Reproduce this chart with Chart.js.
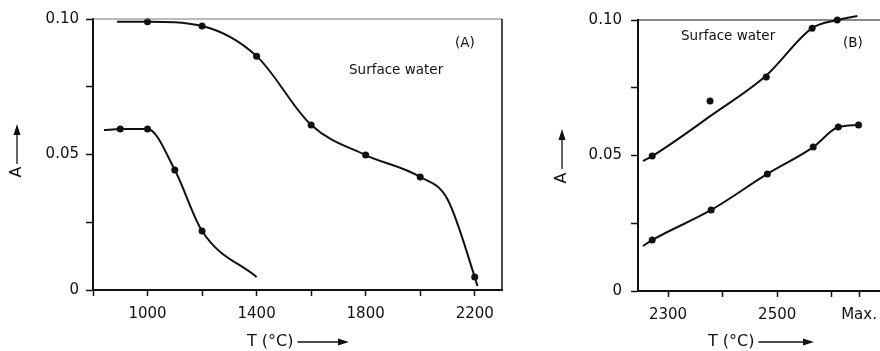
<!DOCTYPE html>
<html>
<head>
<meta charset="utf-8">
<script src="https://cdn.jsdelivr.net/npm/chart.js@4"></script>
<style>
  html, body { margin: 0; padding: 0; background: #fff; overflow: hidden; width: 880px; height: 351px; }
  .panel { position: absolute; top: 0; height: 351px; }
  #panel-a { left: 0; width: 520px; }
  #panel-b { left: 540px; width: 380px; }
</style>
</head>
<body>
<div class="panel" id="panel-a"><canvas id="chart-a"></canvas></div>
<div class="panel" id="panel-b"><canvas id="chart-b"></canvas></div>
<script>
// (A) absorbance vs atomization temperature
var aUpperCurveT = [888, 1000, 1200, 1400, 1600, 1800, 2000, 2100, 2200, 2210];
var aUpperCurveA = [0.0990, 0.0990, 0.0974, 0.0863, 0.0609, 0.0498, 0.0417, 0.0335, 0.0048, 0.0015];
var aUpperPointT = [1000, 1200, 1400, 1600, 1800, 2000, 2200];
var aUpperPointA = [0.0990, 0.0974, 0.0863, 0.0609, 0.0498, 0.0417, 0.0048];
var aLowerCurveT = [840, 900, 1000, 1100, 1200, 1400];
var aLowerCurveA = [0.0590, 0.0594, 0.0594, 0.0443, 0.0218, 0.0048];
var aLowerPointT = [900, 1000, 1100, 1200];
var aLowerPointA = [0.0594, 0.0594, 0.0443, 0.0218];

// (B) absorbance vs atomization temperature, high range
var bUpperCurveT = [2254, 2271, 2380, 2480, 2564, 2610, 2647];
var bUpperCurveA = [0.0480, 0.0498, 0.0649, 0.0795, 0.0970, 0.1000, 0.1015];
var bUpperPointT = [2271, 2377, 2480, 2564, 2610, 2647];
var bUpperPointA = [0.0498, 0.0701, 0.0790, 0.0970, 0.1000, 0.1015];
var bLowerCurveT = [2254, 2271, 2379, 2482, 2566, 2612, 2649];
var bLowerCurveA = [0.0166, 0.0188, 0.0299, 0.0432, 0.0531, 0.0605, 0.0613];
var bLowerPointT = [2271, 2379, 2482, 2566, 2612, 2649];
var bLowerPointA = [0.0188, 0.0299, 0.0432, 0.0531, 0.0605, 0.0613];

// axis ticks
var aTempTicks = [800, 1000, 1200, 1400, 1600, 1800, 2000, 2200];
var aTempLabels = ["", "1000", "", "1400", "", "1800", "", "2200"];
var bTempTicks = [2300, 2400, 2500, 2600, 2650];
var bTempLabels = ["2300", "", "2500", "", "Max."];
var absTicks = [0, 0.025, 0.05, 0.075, 0.10];
var absLabels = ["0", "", "0.05", "", "0.10"];

var INK = "#111";
var FONT = "DejaVu Sans";

function pts(xs, ys) {
  return xs.map(function (x, i) { return { x: x, y: ys[i] }; });
}

function curve(xs, ys) {
  return { data: pts(xs, ys), borderColor: INK, borderWidth: 2, pointRadius: 0,
    cubicInterpolationMode: "monotone", fill: false, clip: false };
}

function dots(xs, ys) {
  return { data: pts(xs, ys), showLine: false, pointRadius: 3.5, pointBackgroundColor: INK,
    pointBorderWidth: 0, clip: false };
}

function arrowHead(ctx, x, y, dir) {
  // dir: "right" or "up"
  ctx.beginPath();
  if (dir === "right") {
    ctx.moveTo(x, y); ctx.lineTo(x - 11, y - 3.5); ctx.lineTo(x - 11, y + 3.5);
  } else {
    ctx.moveTo(x, y); ctx.lineTo(x - 3.5, y + 11); ctx.lineTo(x + 3.5, y + 11);
  }
  ctx.closePath();
  ctx.fill();
}

// frame, axis titles and in-plot labels
var decorPlugin = {
  id: "decor",
  afterDraw: function (chart, args, o) {
    var ctx = chart.ctx, a = chart.chartArea;
    ctx.save();
    ctx.fillStyle = INK;
    ctx.lineWidth = o.topWidth;
    ctx.strokeStyle = o.topColor;
    ctx.beginPath(); ctx.moveTo(a.left, a.top); ctx.lineTo(a.right, a.top); ctx.stroke();
    ctx.strokeStyle = INK;
    ctx.lineWidth = 1.5;
    ctx.beginPath(); ctx.moveTo(a.right, a.top); ctx.lineTo(a.right, a.bottom); ctx.stroke();

    ctx.font = "16px '" + FONT + "'";
    ctx.textBaseline = "middle";
    ctx.textAlign = "left";
    // x title with arrow
    var xt = o.xTitle, label = "T (°C)";
    ctx.fillText(label, xt.x, xt.y);
    var from = xt.x + ctx.measureText(label).width + 4;
    ctx.lineWidth = 1.3;
    ctx.beginPath(); ctx.moveTo(from, xt.y); ctx.lineTo(xt.to - 6, xt.y); ctx.stroke();
    arrowHead(ctx, xt.to, xt.y, "right");
    // y title with arrow
    var yt = o.yTitle;
    ctx.save();
    ctx.translate(yt.x, yt.y);
    ctx.rotate(-Math.PI / 2);
    ctx.textAlign = "center";
    ctx.fillText("A", 0, 0);
    ctx.restore();
    ctx.beginPath(); ctx.moveTo(yt.x, yt.from); ctx.lineTo(yt.x, yt.to + 6); ctx.stroke();
    arrowHead(ctx, yt.x, yt.to, "up");
    // notes
    ctx.font = "13.5px '" + FONT + "'";
    o.notes.forEach(function (n) { ctx.fillText(n.text, n.x, n.y); });
    ctx.restore();
  }
};

function makeChart(id, cfg) {
  var canvas = document.getElementById(id);
  return new Chart(canvas.getContext("2d"), {
    type: "line",
    data: { datasets: cfg.datasets },
    options: {
      responsive: true,
      maintainAspectRatio: false,
      animation: false,
      layout: { padding: { top: cfg.top, right: cfg.right, left: 0, bottom: 0 } },
      plugins: { legend: { display: false }, tooltip: { enabled: false }, decor: cfg.decor },
      scales: {
        x: {
          type: "linear", min: cfg.xMin, max: cfg.xMax,
          afterBuildTicks: function (s) { s.ticks = cfg.xTicks.map(function (v) { return { value: v }; }); },
          afterFit: function (s) { s.height = cfg.xHeight; },
          grid: { drawOnChartArea: false, tickLength: 6, tickWidth: 1.5, tickColor: INK },
          border: { color: INK, width: 2 },
          ticks: {
            autoSkip: false, maxRotation: 0, padding: 9, color: INK,
            font: { family: FONT, size: 15 },
            callback: function (v) { return cfg.xLabels[cfg.xTicks.indexOf(v)]; }
          }
        },
        y: {
          min: 0, max: 0.10,
          afterBuildTicks: function (s) { s.ticks = absTicks.map(function (v) { return { value: v }; }); },
          afterFit: function (s) { s.width = cfg.yWidth; },
          grid: { drawOnChartArea: false, tickLength: 7, tickWidth: 1.5, tickColor: INK },
          border: { color: INK, width: 2 },
          ticks: {
            padding: cfg.yPad, color: INK,
            font: { family: FONT, size: 15 },
            callback: function (v) { return absLabels[absTicks.indexOf(v)]; }
          }
        }
      }
    },
    plugins: [decorPlugin]
  });
}

makeChart("chart-a", {
  datasets: [
    curve(aUpperCurveT, aUpperCurveA), dots(aUpperPointT, aUpperPointA),
    curve(aLowerCurveT, aLowerCurveA), dots(aLowerPointT, aLowerPointA)
  ],
  xMin: 800, xMax: 2300, xTicks: aTempTicks, xLabels: aTempLabels,
  top: 19, right: 18, xHeight: 61, yWidth: 93, yPad: 7,
  decor: {
    topColor: "#777", topWidth: 1,
    xTitle: { x: 247, y: 342, to: 349 },
    yTitle: { x: 17, y: 172, from: 164, to: 124 },
    notes: [{ text: "Surface water", x: 349, y: 70 }, { text: "(A)", x: 455, y: 43 }]
  }
});

makeChart("chart-b", {
  datasets: [
    curve(bUpperCurveT, bUpperCurveA), dots(bUpperPointT, bUpperPointA),
    curve(bLowerCurveT, bLowerCurveA), dots(bLowerPointT, bLowerPointA)
  ],
  xMin: 2245, xMax: 2725, xTicks: bTempTicks, xLabels: bTempLabels,
  top: 20, right: 20, xHeight: 60, yWidth: 98, yPad: 9,
  decor: {
    topColor: INK, topWidth: 1,
    xTitle: { x: 168, y: 342, to: 274 },
    yTitle: { x: 22, y: 178, from: 169, to: 129 },
    notes: [{ text: "Surface water", x: 141, y: 36 }, { text: "(B)", x: 303, y: 43 }]
  }
});
</script>
</body>
</html>
